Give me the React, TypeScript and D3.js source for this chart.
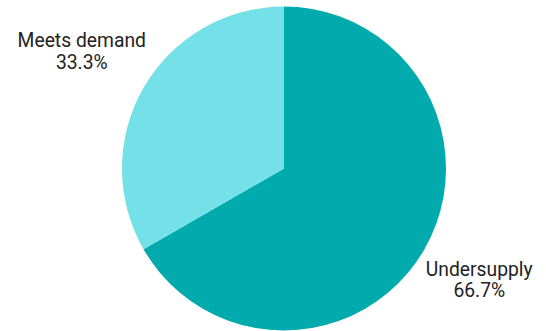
import React from "react";
import * as d3 from "d3";

const categories = ["Undersupply", "Meets demand"];
const values = [66.7, 33.3];
const colors = ["#00AAAD", "#74E1E9"];

export default function App() {
  const width = 546;
  const height = 331;
  const cx = 284;
  const cy = 168.5;
  const r = 162;
  const pie = d3.pie<number>().sort(null).value((d) => d);
  const arcs = pie(values);
  const arc = d3.arc<d3.PieArcDatum<number>>().innerRadius(0).outerRadius(r);
  const labelR = 236;
  const labelArc = d3.arc<d3.PieArcDatum<number>>().innerRadius(labelR).outerRadius(labelR);
  const nudges = [
    [-9, -8],
    [2, 0],
  ];
  return (
    <svg width={width} height={height} style={{ position: "absolute", left: 0, top: 0 }}>
      <g transform={`translate(${cx},${cy})`}>
        {arcs.map((a, i) => (
          <path key={i} d={arc(a) || ""} fill={colors[i]} />
        ))}
        {arcs.map((a, i) => {
          const [x0, y0] = labelArc.centroid(a);
          const x = x0 + nudges[i][0];
          const y = y0 + nudges[i][1];
          return (
            <text key={"t" + i} x={x} y={y} textAnchor="middle" fontFamily="Roboto" fontSize={19.3} fill="#222">
              <tspan x={x} dy={-3}>{categories[i]}</tspan>
              <tspan x={x} dy={21.5}>{values[i].toFixed(1) + "%"}</tspan>
            </text>
          );
        })}
      </g>
    </svg>
  );
}
